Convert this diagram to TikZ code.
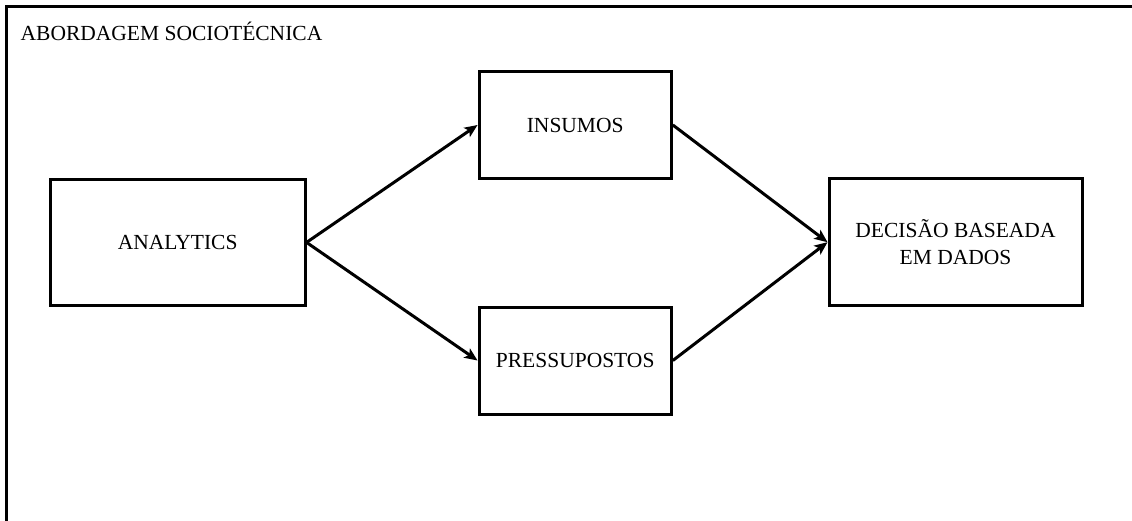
\documentclass[tikz,border=0pt]{standalone}
\usepackage{fontspec}
\setmainfont{Liberation Serif}
\usetikzlibrary{arrows.meta}

\begin{document}
\begin{tikzpicture}[
  x=1pt, y=-1pt,
  every node/.style={font=\fontsize{21.5}{26.7}\selectfont},
  stagebox/.style={draw=black, line width=3pt, rectangle, align=center, inner sep=0pt},
  flow/.style={line width=3pt, -{Stealth[length=13pt,width=11pt,inset=3pt]}}
]
  \useasboundingbox (0,0) rectangle (1132,520);

  % outer frame (left and top sides)
  \draw[line width=3.2pt, line join=miter] (6.5,525) -- (6.5,6.5) -- (1140,6.5);
  \node[anchor=base west, inner sep=0pt] (title) at (20.5,40.7) {ABORDAGEM SOCIOTÉCNICA};

  % stages
  \node[stagebox, minimum width=254.7pt, minimum height=126.8pt] (analytics) at (177.7,242.4) {ANALYTICS};
  \node[stagebox, minimum width=192.3pt, minimum height=107pt] (insumos) at (575.2,125) {INSUMOS};
  \node[stagebox, minimum width=192.3pt, minimum height=107pt] (pressupostos) at (575.2,360.5) {PRESSUPOSTOS};
  \node[stagebox, minimum width=253pt, minimum height=127pt] (decisao) at (955.5,242.2) {DECISÃO BASEADA\\EM DADOS};

  % connectors
  \draw[flow] (analytics.east) -- (insumos.west);
  \draw[flow] (analytics.east) -- (pressupostos.west);
  \draw[flow] (insumos.east) -- (decisao.west);
  \draw[flow] (pressupostos.east) -- (decisao.west);
\end{tikzpicture}
\end{document}
